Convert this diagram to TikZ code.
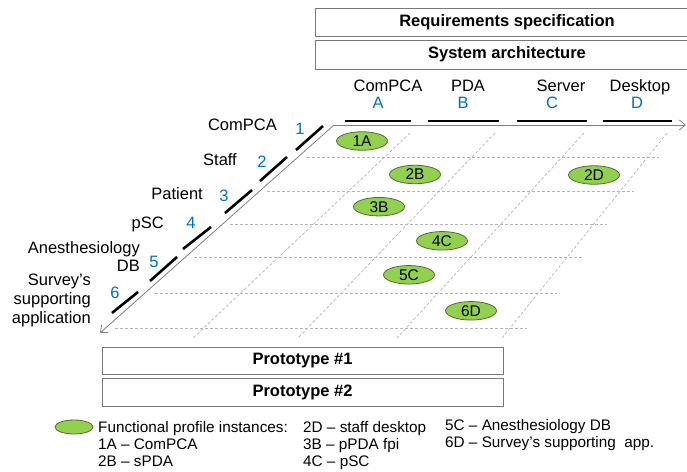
\documentclass[tikz,border=0pt]{standalone}
\usepackage{fontspec}
\setmainfont{Liberation Sans}
\usetikzlibrary{arrows.meta,shapes.geometric}
\definecolor{axisgray}{RGB}{128,128,128}
\definecolor{boxgray}{RGB}{120,120,120}
\definecolor{gridgray}{RGB}{180,180,180}
\definecolor{fpgreen}{RGB}{146,208,80}
\definecolor{fpedge}{RGB}{85,105,55}
\definecolor{idblue}{RGB}{0,112,192}
\begin{document}
\begin{tikzpicture}[x=1pt,y=-1pt,>={Straight Barb[length=6pt,width=10pt]},
  phase/.style={draw=boxgray,line width=1pt,fill=white,minimum height=28pt,inner sep=0pt,font=\fontsize{16.5}{19}\selectfont\bfseries},
  lbl/.style={inner sep=0pt,font=\fontsize{16.5}{18.6}\selectfont},
  idx/.style={inner sep=0pt,anchor=base,text=idblue,font=\fontsize{16.5}{19}\selectfont},
  fpi/.style={ellipse,draw=fpedge,line width=0.8pt,fill=fpgreen,minimum width=51pt,minimum height=18.5pt,inner sep=0pt,font=\fontsize{15.5}{17}\selectfont},
  legend/.style={inner sep=0pt,anchor=base west,font=\fontsize{15.3}{17}\selectfont},
  grid/.style={gridgray,line width=0.7pt,dash pattern=on 3pt off 2pt},
  tick/.style={line width=2.6pt}]
\clip (0,0) rectangle (687,471);
\node[phase,minimum width=384pt] (req) at (507,22) {Requirements specification};
\node[phase,minimum width=384pt,minimum height=29pt] (arch) at (507,54.5) {System architecture};
\foreach \y/\a/\b in {157/307/659,191/267/634,224/230/607,257/194/583,293/155/557,328/115/527}
  \draw[grid] (\a,\y) -- (\b,\y);
\foreach \a/\b in {410/193,495/298,584/397,667/502}
  \draw[grid] (\a,133) -- (\b,338);
\coordinate (O) at (334,125);
\coordinate (xend) at (686,125);
\coordinate (yend) at (100,333);
\draw[axisgray,line width=0.8pt,->] (O) -- (xend);
\draw[axisgray,line width=0.8pt,->] (O) -- (yend);
\foreach \a/\b in {345/411,428/499,517/587,603/672}
  \draw[tick] (\a,121) -- (\b,121);
\foreach \a/\b/\c/\d in {323/126/296/150,287/157/260/181,252/190/225/213,211/227/183/249,177/257/150/281,138/292/112/313}
  \draw[tick] (\a,\b) -- (\c,\d);
\node[lbl,anchor=base] (colA) at (388,91) {ComPCA};
\node[lbl,anchor=base] (colB) at (468,91) {PDA};
\node[lbl,anchor=base] (colC) at (561,91) {Server};
\node[lbl,anchor=base] (colD) at (640,91) {Desktop};
\node[idx] (idA) at (378,108.5) {A};
\node[idx] (idB) at (463,108.5) {B};
\node[idx] (idC) at (552,108.5) {C};
\node[idx] (idD) at (637,108.5) {D};
\node[lbl,anchor=base east] (row1) at (277,130) {ComPCA};
\node[lbl,anchor=base east] (row2) at (237,165) {Staff};
\node[lbl,anchor=base east] (row3) at (203,199) {Patient};
\node[lbl,anchor=base east] (row4) at (164,228.5) {pSC};
\node[lbl,anchor=east,align=right] (row5) at (140,256.7) {Anesthesiology\\DB};
\node[lbl,anchor=east,align=right] (row6) at (91,300.5) {Survey’s\\supporting\\application};
\node[idx] (id1) at (300,134.5) {1};
\node[idx] (id2) at (262,167.5) {2};
\node[idx] (id3) at (224,201.5) {3};
\node[idx] (id4) at (191,228.5) {4};
\node[idx] (id5) at (154,267) {5};
\node[idx] (id6) at (115,298.5) {6};
\node[fpi] (f1A) at (362,141) {1A};
\node[fpi] (f2B) at (415,174.5) {2B};
\node[fpi] (f2D) at (594,175) {2D};
\node[fpi] (f3B) at (379,206.7) {3B};
\node[fpi] (f4C) at (442,240.8) {4C};
\node[fpi] (f5C) at (409,274.8) {5C};
\node[fpi] (f6D) at (471,310.8) {6D};
\node[phase,minimum width=401pt,minimum height=27pt] (proto1) at (302.5,360.5) {Prototype \#1};
\node[phase,minimum width=401pt] (proto2) at (302.5,392) {Prototype \#2};
\node[fpi,minimum width=38pt,minimum height=14pt] (key) at (74,427) {};
\node[legend] (leg1) at (98,432) {Functional profile instances:};
\node[legend] (leg2) at (98,449) {1A – ComPCA};
\node[legend] (leg3) at (98,466) {2B – sPDA};
\node[legend] (leg4) at (303,432) {2D – staff desktop};
\node[legend] (leg5) at (303,449) {3B – pPDA fpi};
\node[legend] (leg6) at (303,466) {4C – pSC};
\node[legend] (leg7) at (445,430) {5C – Anesthesiology DB};
\node[legend] (leg8) at (445,447) {6D – Survey’s supporting~ app.};
\end{tikzpicture}
\end{document}
